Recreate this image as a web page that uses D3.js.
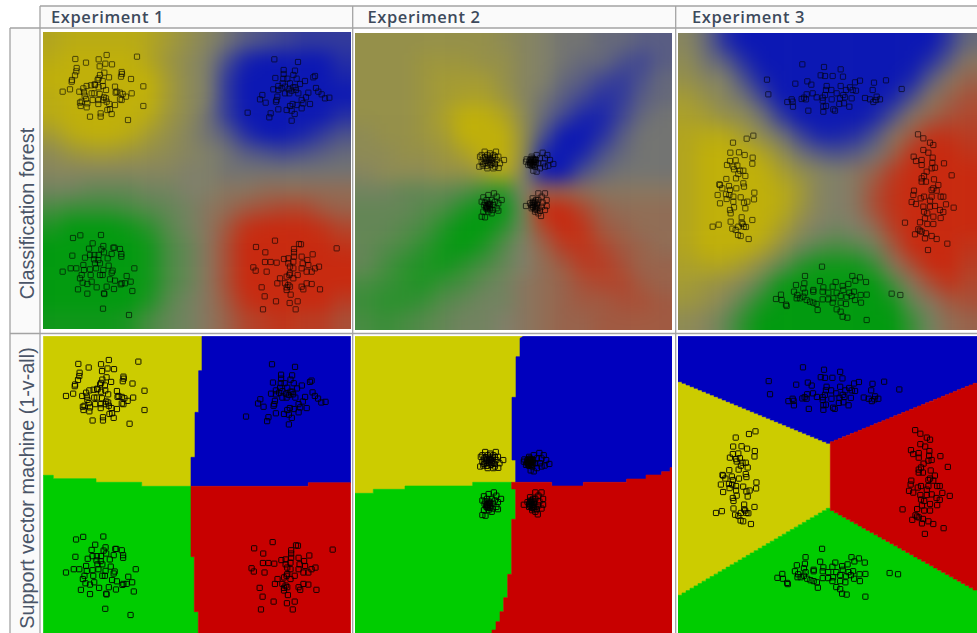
<!DOCTYPE html>
<html>
<head>
<meta charset="utf-8">
<script src="https://cdn.jsdelivr.net/npm/d3@7/dist/d3.min.js"></script>
<style>html,body{margin:0;padding:0;background:#fff;overflow:hidden}svg{display:block}</style>
</head>
<body>
<svg id="chart" width="977" height="633"></svg>
<script>
const experiments = ["Experiment 1", "Experiment 2", "Experiment 3"];
const methods = ["Classification forest", "Support vector machine (1-v-all)"];
const classes = ["Y", "B", "G", "R"];

// Forest posterior: winning class + confidence digit (0-9), 16 x 16 cells
const forest1 = [
"Y7 Y8 Y8 Y8 Y8 Y7 Y5 Y3 Y1 B1 B3 B4 B5 B6 B6 B6",
"Y8 Y9 Y9 Y9 Y9 Y7 Y4 Y2 Y0 B4 B8 B9 B9 B9 B9 B7",
"Y9 Y9 Y9 Y9 Y9 Y9 Y5 Y2 Y0 B6 B9 B9 B9 B9 B9 B8",
"Y8 Y9 Y9 Y9 Y9 Y9 Y5 Y2 Y0 B6 B9 B9 B9 B9 B9 B9",
"Y8 Y9 Y9 Y9 Y9 Y8 Y4 Y2 B1 B6 B9 B9 B9 B9 B9 B7",
"Y5 Y8 Y9 Y9 Y8 Y5 Y3 Y1 B1 B3 B7 B9 B9 B8 B6 B4",
"Y2 Y4 Y5 Y5 Y4 Y3 Y2 Y1 B0 B1 B3 B4 B5 B4 B3 B2",
"Y1 Y1 Y1 Y1 Y1 Y1 Y1 Y0 Y0 B1 B1 B1 B1 B1 B1 B1",
"G1 G1 G2 G2 G2 G1 G1 G0 Y0 R1 R1 R2 R2 R2 R2 R2",
"G4 G5 G5 G5 G4 G3 G2 G1 R1 R2 R4 R5 R6 R6 R4 R3",
"G7 G9 G9 G9 G8 G6 G3 G1 R1 R4 R8 R9 R9 R9 R8 R6",
"G9 G9 G9 G9 G9 G8 G4 G2 R1 R5 R9 R9 R9 R9 R9 R8",
"G9 G9 G9 G9 G9 G8 G4 G2 R1 R5 R9 R9 R9 R9 R9 R9",
"G9 G9 G9 G9 G9 G8 G4 G2 R1 R5 R9 R9 R9 R9 R9 R9",
"G9 G9 G9 G9 G9 G7 G3 G1 R1 R4 R8 R9 R9 R9 R9 R7",
"G8 G8 G8 G8 G7 G4 G2 G1 R1 R3 R6 R7 R8 R7 R7 R5"];
const forest2 = [
"Y3 Y3 Y3 Y3 Y3 Y3 Y3 Y2 Y1 B0 B1 B1 B2 B2 B3 B3",
"Y3 Y3 Y3 Y4 Y4 Y4 Y3 Y3 Y1 B0 B1 B2 B2 B4 B5 B3",
"Y3 Y3 Y3 Y4 Y5 Y5 Y5 Y3 Y1 B0 B2 B3 B5 B6 B4 B2",
"Y3 Y3 Y3 Y4 Y5 Y6 Y6 Y4 Y1 B1 B3 B5 B7 B6 B3 B2",
"Y3 Y3 Y3 Y4 Y6 Y9 Y9 Y7 Y2 B2 B5 B8 B8 B5 B2 B1",
"Y2 Y3 Y3 Y4 Y5 Y9 Y9 Y9 Y3 B4 B9 B9 B7 B3 B1 B1",
"Y2 Y2 Y3 Y3 Y4 Y6 Y9 Y9 Y3 B8 B9 B8 B4 B2 B1 B1",
"Y1 Y2 Y2 Y2 Y3 Y3 Y5 Y8 Y1 B9 B9 B4 B2 B1 B1 B1",
"G1 G1 G2 G2 G2 G3 G5 G6 Y0 R3 R3 R2 R1 R1 R1 R1",
"G2 G2 G2 G3 G4 G7 G9 G9 G1 R9 R9 R6 R3 R2 R2 R2",
"G2 G2 G3 G4 G7 G9 G9 G6 G1 R6 R9 R8 R4 R3 R2 R2",
"G2 G3 G4 G6 G8 G9 G7 G3 G0 R3 R7 R8 R6 R4 R3 R2",
"G2 G4 G6 G7 G8 G6 G4 G2 R0 R2 R4 R7 R7 R5 R3 R3",
"G4 G5 G6 G7 G5 G4 G2 G1 R1 R2 R3 R5 R6 R6 R4 R3",
"G5 G6 G6 G5 G3 G2 G1 G1 R1 R2 R3 R4 R4 R5 R5 R4",
"G4 G5 G4 G3 G2 G1 G1 G0 R1 R2 R3 R3 R4 R4 R4 R4"];
const forest3 = [
"Y1 B2 B7 B9 B9 B9 B9 B9 B9 B9 B9 B9 B9 B9 B6 B2",
"Y2 B1 B3 B7 B9 B9 B9 B9 B9 B9 B9 B9 B9 B7 B3 R1",
"Y3 Y1 B0 B4 B8 B9 B9 B9 B9 B9 B9 B9 B8 B3 R1 R3",
"Y5 Y3 Y1 B1 B5 B9 B9 B9 B9 B9 B9 B8 B4 R1 R3 R5",
"Y6 Y5 Y3 Y2 B1 B6 B9 B9 B9 B9 B8 B4 R1 R3 R5 R6",
"Y7 Y8 Y8 Y5 Y2 B1 B5 B8 B8 B7 B4 R1 R4 R8 R8 R7",
"Y7 Y9 Y9 Y9 Y7 Y3 B1 B3 B4 B3 B1 R3 R8 R9 R9 R8",
"Y7 Y9 Y9 Y9 Y9 Y6 Y3 Y1 B0 R1 R3 R7 R9 R9 R9 R9",
"Y7 Y9 Y9 Y9 Y9 Y8 Y5 Y1 Y0 R1 R5 R8 R9 R9 R9 R9",
"Y7 Y9 Y9 Y9 Y9 Y8 Y4 Y1 Y0 R1 R5 R8 R9 R9 R9 R9",
"Y7 Y9 Y9 Y9 Y9 Y6 Y2 G0 G1 G0 R2 R7 R9 R9 R9 R9",
"Y7 Y9 Y9 Y9 Y7 Y3 G1 G3 G4 G3 G1 R4 R9 R9 R9 R8",
"Y6 Y7 Y7 Y5 Y2 G2 G6 G8 G8 G8 G5 R1 R5 R9 R9 R7",
"Y5 Y4 Y3 Y1 G3 G8 G9 G9 G9 G9 G9 G4 R1 R5 R8 R6",
"Y4 Y3 Y1 G3 G7 G9 G9 G9 G9 G9 G9 G8 G2 R1 R4 R5",
"Y2 Y1 G2 G6 G9 G9 G9 G9 G9 G9 G9 G9 G5 G1 R2 R3"];

// Training points (picture units)
const exp1Y = [[320,165],[411,170],[226,177],[296,178],[258,188],[316,191],[336,193],[299,199],[230,204],[229,214],[225,226],[216,240],[215,245],[313,218],[300,225],[296,235],[365,216],[366,222],[363,230],[327,232],[393,237],[308,243],[293,240],[284,253],[285,255],[260,258],[273,256],[250,265],[296,262],[309,258],[430,259],[345,260],[210,268],[188,275],[238,275],[252,277],[318,270],[350,275],[360,278],[347,278],[368,282],[395,280],[378,290],[254,287],[275,280],[283,280],[299,282],[258,297],[312,292],[318,295],[245,305],[240,308],[262,310],[278,300],[295,300],[295,312],[310,300],[320,305],[360,298],[345,315],[365,300],[430,318],[242,318],[260,322],[322,330],[330,328],[302,340],[335,342],[270,350],[302,350],[384,360],[328,312]];
const exp1B = [[823,178],[894,186],[851,210],[885,212],[851,222],[880,225],[826,234],[850,236],[862,236],[945,228],[940,232],[890,236],[915,243],[848,250],[870,250],[900,252],[835,258],[886,262],[948,264],[820,268],[835,270],[875,272],[888,270],[925,278],[855,280],[868,280],[955,275],[965,283],[780,298],[787,285],[832,290],[830,300],[975,295],[988,293],[828,305],[797,308],[905,300],[918,292],[930,312],[878,312],[870,318],[890,315],[905,325],[835,328],[860,330],[875,332],[743,338],[812,340],[884,342],[808,352],[875,362],[855,260],[866,268],[845,265],[895,280],[880,262],[910,310]];
const exp1G = [[303,705],[241,706],[219,714],[278,730],[267,746],[310,738],[340,743],[343,743],[360,747],[304,748],[364,762],[335,762],[312,757],[217,767],[364,770],[270,765],[283,765],[296,765],[255,773],[282,778],[295,780],[323,775],[250,795],[285,790],[300,790],[326,797],[403,805],[212,805],[229,805],[188,815],[252,810],[270,808],[288,805],[310,810],[338,812],[335,818],[300,825],[272,825],[245,825],[240,835],[308,825],[330,838],[380,828],[345,842],[248,848],[262,852],[275,845],[392,845],[365,850],[375,850],[362,853],[320,860],[290,862],[234,868],[342,867],[397,873],[262,881],[312,880],[313,882],[309,926],[387,945]];
const exp1R = [[825,722],[897,732],[903,733],[768,741],[1010,745],[882,747],[796,757],[938,763],[882,757],[882,770],[905,770],[852,777],[865,775],[795,786],[812,786],[830,788],[922,780],[865,790],[880,785],[908,790],[925,795],[760,802],[767,812],[800,815],[957,800],[870,800],[880,805],[905,805],[945,805],[935,815],[920,815],[870,820],[893,825],[860,830],[868,825],[840,835],[880,835],[832,850],[855,850],[865,855],[920,850],[935,852],[905,860],[860,870],[870,860],[785,862],[910,868],[960,868],[860,862],[872,884],[794,889],[828,904],[893,904],[869,909],[789,928],[887,928]];
const exp2Y = [[404,455],[438,455],[420,460],[395,465],[412,465],[430,465],[445,470],[462,480],[390,470],[400,475],[415,475],[428,475],[440,480],[395,485],[405,488],[418,485],[430,488],[450,490],[388,500],[398,497],[410,498],[422,495],[435,500],[446,504],[415,490],[425,482],[408,482],[435,470],[420,470],[400,492],[412,505],[430,505],[418,480],[425,490],[410,478],[405,472],[435,492],[422,478]];
const exp2B = [[578,458],[592,465],[560,465],[545,470],[530,478],[528,485],[540,480],[550,478],[558,480],[570,475],[585,475],[600,480],[610,492],[595,497],[580,490],[565,490],[550,490],[540,490],[535,495],[545,498],[555,500],[570,505],[585,500],[560,515],[550,512],[545,485],[548,482],[552,486],[542,488],[555,485],[548,475],[553,495],[543,478],[538,485],[558,490],[550,495],[546,492],[552,480],[556,478],[541,494]];
const exp2G = [[432,580],[415,585],[400,592],[440,590],[455,600],[395,605],[410,600],[425,600],[445,610],[402,615],[415,612],[430,615],[440,625],[412,620],[420,622],[408,625],[428,630],[445,632],[415,635],[400,635],[395,650],[405,652],[425,640],[412,628],[418,618],[405,608],[435,605],[415,615],[410,618],[420,612],[412,624],[416,608],[408,620],[420,628]];
const exp2R = [[565,580],[585,580],[575,590],[590,600],[548,595],[555,605],[565,600],[578,608],[590,618],[528,618],[540,610],[550,615],[560,612],[575,620],[585,630],[545,625],[558,625],[570,632],[555,635],[565,640],[573,648],[550,605],[555,618],[560,620],[548,620],[565,625],[552,610],[545,615],[558,600],[555,628],[562,608],[548,608],[560,630],[550,622]];
const exp3B = [[397,193],[462,201],[512,208],[452,226],[465,228],[488,228],[519,230],[291,239],[412,244],[376,251],[424,254],[570,242],[555,247],[648,241],[612,248],[470,258],[512,258],[540,262],[695,267],[608,270],[484,270],[468,270],[528,270],[548,270],[558,272],[295,283],[428,280],[410,283],[465,285],[500,280],[520,285],[402,293],[395,297],[440,292],[458,293],[545,295],[525,292],[585,294],[620,290],[600,298],[630,298],[610,306],[618,300],[365,298],[352,306],[368,305],[408,298],[458,302],[485,298],[510,295],[508,312],[522,310],[460,320],[538,320],[369,320],[415,332],[460,335],[495,332],[490,328],[468,318]];
const exp3Y = [[250,407],[230,416],[189,428],[181,458],[207,457],[224,465],[248,473],[247,491],[180,483],[197,481],[171,495],[190,500],[202,497],[192,508],[210,512],[220,512],[205,522],[226,528],[198,535],[220,550],[222,560],[169,537],[148,553],[150,555],[157,565],[177,558],[199,565],[180,570],[253,578],[143,585],[168,583],[178,585],[190,590],[252,598],[212,592],[232,605],[222,608],[150,610],[170,597],[190,605],[226,625],[192,622],[180,630],[182,640],[182,665],[215,652],[247,660],[215,668],[128,680],[146,674],[187,686],[205,680],[222,680],[228,681],[197,690],[204,705],[212,708],[236,717],[218,672]];
const exp3R = [[744,403],[760,415],[780,428],[790,435],[760,450],[775,458],[731,470],[788,473],[738,483],[755,480],[787,488],[822,490],[755,495],[795,503],[785,505],[770,515],[845,526],[762,528],[755,545],[768,545],[792,538],[755,535],[805,555],[790,565],[732,572],[785,570],[800,572],[730,585],[752,595],[762,590],[785,590],[812,590],[820,590],[725,606],[738,612],[780,602],[760,620],[780,620],[795,618],[810,630],[828,613],[851,623],[762,635],[790,650],[772,640],[820,636],[812,654],[750,667],[765,655],[705,668],[772,672],[790,672],[745,688],[735,703],[755,695],[768,700],[765,715],[785,708],[800,717],[832,731],[774,750],[750,692]];
const exp3G = [[456,800],[405,828],[547,828],[570,832],[450,843],[556,842],[588,846],[497,846],[403,850],[378,855],[535,852],[400,865],[430,870],[460,862],[488,860],[518,858],[372,875],[382,885],[405,878],[430,875],[458,875],[475,878],[500,878],[520,870],[538,878],[552,875],[590,884],[665,881],[691,885],[333,884],[318,897],[335,900],[348,914],[350,918],[390,895],[410,900],[430,908],[458,898],[475,898],[490,895],[512,888],[530,892],[555,900],[573,908],[572,885],[488,908],[512,908],[528,912],[440,912],[443,930],[500,928],[512,935],[518,950],[532,953],[590,960],[420,905],[380,895],[400,890],[545,888]];

// SVM decision regions (picture units)
const svm1 = {
 Y:[[130,34],[606,34],[606,137],[596,137],[596,262],[585,262],[585,397],[573,397],[573,484],[425,484],[425,472],[288,472],[288,461],[160,461],[160,451],[130,451]],
 B:[[606,34],[1052,34],[1052,473],[925,473],[925,484],[573,484],[573,397],[585,397],[585,262],[596,262],[596,137],[606,137]],
 G:[[130,451],[160,451],[160,461],[288,461],[288,472],[425,472],[425,484],[573,484],[573,695],[583,695],[583,860],[595,860],[595,924],[130,924]],
 R:[[573,484],[925,484],[925,473],[1052,473],[1052,924],[595,924],[595,860],[583,860],[583,695],[573,695]]
};
const svm2 = {
 Y:[[15,34],[520,34],[510,40],[510,95],[498,95],[498,217],[486,217],[486,405],[497,405],[497,472],[368,472],[368,483],[165,483],[165,493],[70,493],[70,505],[15,505]],
 B:[[520,34],[967,34],[967,428],[960,428],[960,440],[935,440],[935,450],[888,450],[888,462],[830,462],[830,472],[700,472],[700,483],[605,483],[605,472],[497,472],[497,405],[486,405],[486,217],[498,217],[498,95],[510,95],[510,40]],
 G:[[15,505],[70,505],[70,493],[165,493],[165,483],[368,483],[368,472],[485,472],[485,492],[497,492],[497,583],[485,583],[485,748],[473,748],[473,818],[461,818],[461,860],[450,860],[450,890],[438,890],[438,915],[426,915],[426,924],[15,924]],
 R:[[485,472],[605,472],[605,483],[700,483],[700,472],[830,472],[830,462],[888,462],[888,450],[935,450],[935,440],[960,440],[960,428],[967,428],[967,924],[426,924],[426,915],[438,915],[438,890],[450,890],[450,860],[461,860],[461,818],[473,818],[473,748],[485,748],[485,583],[497,583],[497,492],[485,492]]
};
const svm3Nodes = {tl:[24,165], tc:[481,355], tr:[921,175], bc:[481,550], bl:[24,818], br:[921,795]};
const svm3Corners = {tl:[24,34], tr:[921,34], bl:[24,924], br:[921,924]};

const palette = {
  svm:{Y:"#cccc00",B:"#0000be",G:"#00cc00",R:"#c80000"},
  forest:{Y:"#c0b00a",B:"#0c18b4",G:"#029a10",R:"#c82a10"}
};
const neutral = "#80806a";

const svg = d3.select("#chart");
const defs = svg.append("defs");
const addBlur = (id,s,attrs)=>{const f=defs.append("filter").attr("id",id);
  Object.entries(attrs).forEach(([k,v])=>f.attr(k,v));
  f.append("feGaussianBlur").attr("stdDeviation",s);};
addBlur("heatBlur",9,{filterUnits:"userSpaceOnUse",x:-60,y:-60,width:1120,height:780,"color-interpolation-filters":"sRGB"});
addBlur("soft",0.4,{filterUnits:"userSpaceOnUse",x:0,y:0,width:977,height:633,"color-interpolation-filters":"sRGB"});

const colX = [[43,351],[355,672],[678,977]];
const rowY = [[[32,329],[33,330],[33,330]],[[336,633],[336,633],[336,633]]];
const origin = [0,350,670];
const cropOffY = 325;
// row-two axis fit: same points, slightly different plot scale
const fit2 = [
  {dx:[188,1010],rx:[198,998],dy:[165,945],ry:[105,870]},
  {dx:[382,610],rx:[385,598],dy:[452,655],ry:[378,575]},
  {dx:[130,695],rx:[140,688],dy:[193,960],ry:[127,815]}
];
const grids = [forest1,forest2,forest3];
const points = [
  {Y:exp1Y,B:exp1B,G:exp1G,R:exp1R},
  {Y:exp2Y,B:exp2B,G:exp2G,R:exp2R},
  {Y:exp3Y,B:exp3B,G:exp3G,R:exp3R}
];

// chrome
const chrome = svg.append("g");
chrome.append("rect").attr("x",40).attr("y",6).attr("width",937).attr("height",22).attr("fill","#fafafa");
chrome.append("rect").attr("x",10).attr("y",28).attr("width",30).attr("height",605).attr("fill","#fafafa");

// stair-stepped raster edge between two read nodes
function stair(a,b,step){
  const n=Math.round(Math.abs(b[0]-a[0])/step), out=[];
  for(let i=0;i<n;i++){
    const x0=a[0]+(b[0]-a[0])*i/n, x1=a[0]+(b[0]-a[0])*(i+1)/n, y1=a[1]+(b[1]-a[1])*(i+1)/n;
    out.push([x0,y1],[x1,y1]);
  }
  return out;
}
const N=svm3Nodes,C=svm3Corners;
const eTL=stair(N.tl,N.tc,12), eTR=stair(N.tc,N.tr,12), eBL=stair(N.bl,N.bc,12), eBR=stair(N.bc,N.br,12);
const rev=a=>a.slice().reverse();
const svm3 = {
  B:[C.tl,C.tr,N.tr,...rev(eTR),N.tc,...rev(eTL),N.tl],
  Y:[N.tl,...eTL,N.tc,N.bc,...rev(eBL),N.bl],
  R:[N.tc,...eTR,N.tr,N.br,...rev(eBR),N.bc],
  G:[N.bl,...eBL,N.bc,...eBR,N.br,C.br,C.bl]
};
const svmRegions=[svm1,svm2,svm3];

experiments.forEach((name,e)=>{
  [0,1].forEach(row=>{
    const [x0,x1]=colX[e],[y0,y1]=rowY[row][e];
    const clipId=`clip${e}${row}`;
    defs.append("clipPath").attr("id",clipId).append("rect")
      .attr("x",x0).attr("y",y0).attr("width",x1-x0).attr("height",y1-y0);
    const panel=svg.append("g").attr("clip-path",`url(#${clipId})`);

    if(row===0){
      const gx=d3.scaleBand().domain(d3.range(16)).range([x0,x1]);
      const gy=d3.scaleBand().domain(d3.range(16)).range([y0,y1]);
      const cells=grids[e].flatMap((line,j)=>line.split(" ").map((c,i)=>({i,j,cls:c[0],conf:+c[1]})));
      const col=d=>d3.interpolateRgb(neutral,palette.forest[d.cls])(d.conf/9);
      const pad=d=>({l:d.i===0?50:0,r:d.i===15?50:0,t:d.j===0?50:0,b:d.j===15?50:0});
      panel.append("rect").attr("x",x0).attr("y",y0).attr("width",x1-x0).attr("height",y1-y0).attr("fill",neutral);
      panel.append("g").attr("filter","url(#heatBlur)").selectAll("rect").data(cells).join("rect")
        .attr("x",d=>gx(d.i)-pad(d).l).attr("y",d=>gy(d.j)-pad(d).t)
        .attr("width",d=>gx.bandwidth()+pad(d).l+pad(d).r+0.5)
        .attr("height",d=>gy.bandwidth()+pad(d).t+pad(d).b+0.5)
        .attr("fill",col);
    } else {
      const rx=d3.scaleLinear().domain([0,3]).range([origin[e],origin[e]+1]);
      const ry=d3.scaleLinear().domain([0,3]).range([cropOffY,cropOffY+1]);
      const line=d3.line().x(d=>rx(d[0])).y(d=>ry(d[1]));
      const g=panel.append("g").attr("filter","url(#soft)");
      classes.forEach(c=>{
        g.append("path").attr("d",line(svmRegions[e][c])+"Z").attr("fill",palette.svm[c])
         .attr("stroke",palette.svm[c]).attr("stroke-width",0.6);
      });
    }

    let sx,sy;
    if(row===0){
      sx=d3.scaleLinear().domain([0,3]).range([origin[e],origin[e]+1]);
      sy=d3.scaleLinear().domain([0,3]).range([0,1]);
    } else {
      const f=fit2[e];
      sx=d3.scaleLinear().domain(f.dx).range(f.rx.map(v=>origin[e]+v/3));
      sy=d3.scaleLinear().domain(f.dy).range(f.ry.map(v=>cropOffY+v/3));
    }
    const markers=panel.append("g").attr("filter","url(#soft)");
    classes.forEach(c=>{
      markers.selectAll(null).data(points[e][c]).join("rect")
        .attr("x",d=>sx(d[0])-2.6).attr("y",d=>sy(d[1])-2.6)
        .attr("width",5.2).attr("height",5.2).attr("rx",0.6)
        .attr("fill","none").attr("stroke","#000")
        .attr("stroke-opacity",row===0?0.62:0.9).attr("stroke-width",1);
    });
  });
});

// table rules
const rule="#a3a3a3";
const rules=svg.append("g").attr("stroke",rule).attr("stroke-width",1.3);
[[40,6,977,6],[10,28,977,28],[10,333.5,977,333.5],[10,28,10,633],[40,6,40,633],[352.7,6,352.7,633],[675.7,6,675.7,633]]
 .forEach(l=>rules.append("line").attr("x1",l[0]).attr("y1",l[1]).attr("x2",l[2]).attr("y2",l[3]));

// labels
const headX=[51,367.5,692];
svg.append("g").selectAll("text").data(experiments).join("text")
  .attr("x",(d,i)=>headX[i]).attr("y",23)
  .attr("font-family","'Open Sans',sans-serif").attr("font-weight",600).attr("font-size",16.5)
  .attr("letter-spacing",0.6).attr("fill","#3d4a5c").text(d=>d);
const rowLabelY=[213.5,488];
svg.append("g").selectAll("text").data(methods).join("text")
  .attr("transform",(d,i)=>`translate(34,${rowLabelY[i]}) rotate(-90)`)
  .attr("text-anchor","middle")
  .attr("font-family","'Liberation Sans',Arial,sans-serif").attr("font-size",19.8)
  .attr("fill","#4a5568").text(d=>d);
</script>
</body>
</html>
